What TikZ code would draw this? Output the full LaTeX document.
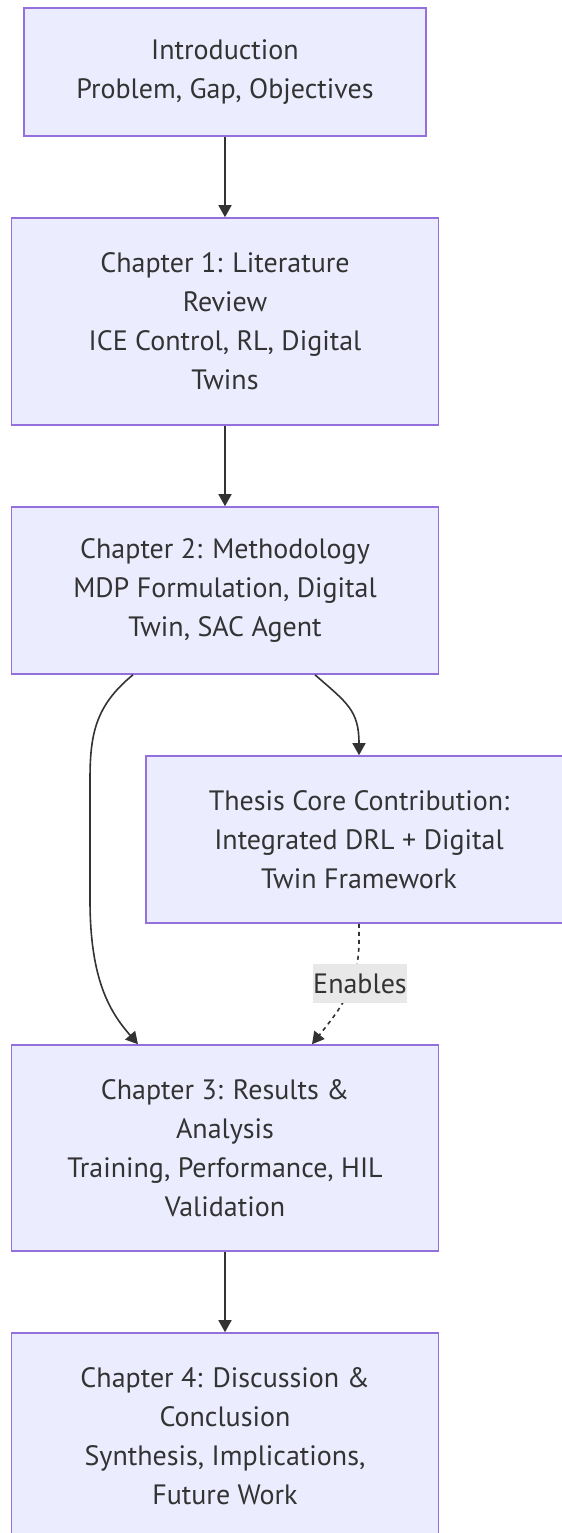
\documentclass[tikz,border=0pt]{standalone}
\usepackage{fontspec}
\setmainfont{PT Sans}
\usetikzlibrary{arrows.meta,calc}
\definecolor{boxfill}{HTML}{ECECFF}
\definecolor{boxline}{HTML}{9370DB}
\definecolor{ink}{HTML}{333333}
\definecolor{labelbg}{HTML}{E8E8E8}
\begin{document}
\begin{tikzpicture}[x=0.5pt,y=-0.5pt,
  chapbox/.style={draw=boxline, fill=boxfill, line width=0.8pt, text=ink,
    align=center, font=\fontsize{14pt}{19.5pt}\selectfont, inner sep=0pt},
  flow/.style={draw=ink, line width=0.8pt, -{Triangle[length=6pt,width=6.5pt]}},
  dotflow/.style={flow, dash pattern=on 2pt off 2pt},
  edgelabel/.style={fill=labelbg, text=ink, font=\fontsize{14pt}{19.5pt}\selectfont,
    inner xsep=0pt, inner ysep=0pt, minimum height=19.5pt}]
\clip (0,0) rectangle (562,1533);

% chapter boxes
\node[chapbox, minimum width=201pt, minimum height=64pt] (intro) at (225,72)
  {Introduction\\Problem, Gap, Objectives};
\node[chapbox, minimum width=213.5pt, minimum height=103.5pt] (ch1) at (225,321.5)
  {Chapter 1: Literature\\Review\\ICE Control, RL, Digital\\Twins};
\node[chapbox, minimum width=213.5pt, minimum height=83.5pt] (ch2) at (225,590.5)
  {Chapter 2: Methodology\\MDP Formulation, Digital\\Twin, SAC Agent};
\node[chapbox, minimum width=213pt, minimum height=83.5pt] (core) at (359,839.5)
  {Thesis Core Contribution:\\Integrated DRL + Digital\\Twin Framework};
\node[chapbox, minimum width=213.5pt, minimum height=103pt] (ch3) at (225,1148)
  {Chapter 3: Results \&\\Analysis\\Training, Performance, HIL\\Validation};
\node[chapbox, minimum width=213.5pt, minimum height=103.5pt] (ch4) at (225,1436.5)
  {Chapter 4: Discussion \&\\Conclusion\\Synthesis, Implications,\\Future Work};

% bend points of the long left-hand connector
\coordinate (lbendA) at (90,780);
\coordinate (lbendB) at (90,900);

% connectors
\draw[flow] (intro) -- (ch1);
\draw[flow] (ch1) -- (ch2);
\draw[flow] ($(ch2.south)+(-92,0)$) .. controls +(-38,31) and +(0,-45) .. (lbendA)
  -- (lbendB) .. controls +(0,80) and +(-28,-32) .. ($(ch3.north)+(-87,0)$);
\draw[flow] ($(ch2.south)+(90,0)$) .. controls +(32,28) and +(0,-45) .. (core.north);
\draw[dotflow] (core.south) -- ++(0,17) .. controls +(0,45) and +(28,-35) .. ($(ch3.north)+(87,0)$);
\node[edgelabel] (enables) at (360,983.5) {Enables};

\draw[flow] (ch3) -- (ch4);
\end{tikzpicture}
\end{document}
